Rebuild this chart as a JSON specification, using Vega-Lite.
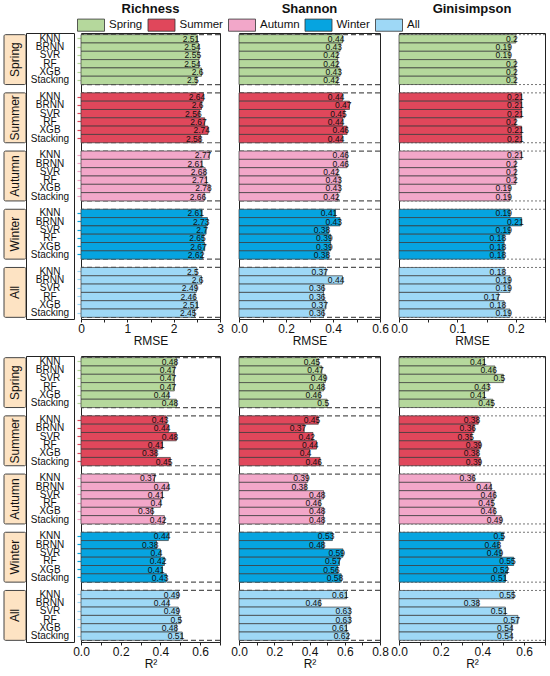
{
  "$schema": "https://vega.github.io/schema/vega-lite/v6.json",
  "padding": {"left": 3, "top": 2, "right": 6, "bottom": 2},
  "background": "white",
  "datasets": {
    "d": [
      {"index": "Richness", "metric": "RMSE", "season": "Spring", "model": "KNN", "value": 2.51},
      {"index": "Richness", "metric": "RMSE", "season": "Spring", "model": "BRNN", "value": 2.54},
      {"index": "Richness", "metric": "RMSE", "season": "Spring", "model": "SVR", "value": 2.55},
      {"index": "Richness", "metric": "RMSE", "season": "Spring", "model": "RF", "value": 2.54},
      {"index": "Richness", "metric": "RMSE", "season": "Spring", "model": "XGB", "value": 2.6},
      {"index": "Richness", "metric": "RMSE", "season": "Spring", "model": "Stacking", "value": 2.5},
      {"index": "Richness", "metric": "RMSE", "season": "Summer", "model": "KNN", "value": 2.64},
      {"index": "Richness", "metric": "RMSE", "season": "Summer", "model": "BRNN", "value": 2.6},
      {"index": "Richness", "metric": "RMSE", "season": "Summer", "model": "SVR", "value": 2.56},
      {"index": "Richness", "metric": "RMSE", "season": "Summer", "model": "RF", "value": 2.67},
      {"index": "Richness", "metric": "RMSE", "season": "Summer", "model": "XGB", "value": 2.74},
      {"index": "Richness", "metric": "RMSE", "season": "Summer", "model": "Stacking", "value": 2.58},
      {"index": "Richness", "metric": "RMSE", "season": "Autumn", "model": "KNN", "value": 2.77},
      {"index": "Richness", "metric": "RMSE", "season": "Autumn", "model": "BRNN", "value": 2.61},
      {"index": "Richness", "metric": "RMSE", "season": "Autumn", "model": "SVR", "value": 2.68},
      {"index": "Richness", "metric": "RMSE", "season": "Autumn", "model": "RF", "value": 2.71},
      {"index": "Richness", "metric": "RMSE", "season": "Autumn", "model": "XGB", "value": 2.78},
      {"index": "Richness", "metric": "RMSE", "season": "Autumn", "model": "Stacking", "value": 2.66},
      {"index": "Richness", "metric": "RMSE", "season": "Winter", "model": "KNN", "value": 2.61},
      {"index": "Richness", "metric": "RMSE", "season": "Winter", "model": "BRNN", "value": 2.73},
      {"index": "Richness", "metric": "RMSE", "season": "Winter", "model": "SVR", "value": 2.7},
      {"index": "Richness", "metric": "RMSE", "season": "Winter", "model": "RF", "value": 2.65},
      {"index": "Richness", "metric": "RMSE", "season": "Winter", "model": "XGB", "value": 2.67},
      {"index": "Richness", "metric": "RMSE", "season": "Winter", "model": "Stacking", "value": 2.62},
      {"index": "Richness", "metric": "RMSE", "season": "All", "model": "KNN", "value": 2.5},
      {"index": "Richness", "metric": "RMSE", "season": "All", "model": "BRNN", "value": 2.6},
      {"index": "Richness", "metric": "RMSE", "season": "All", "model": "SVR", "value": 2.49},
      {"index": "Richness", "metric": "RMSE", "season": "All", "model": "RF", "value": 2.46},
      {"index": "Richness", "metric": "RMSE", "season": "All", "model": "XGB", "value": 2.51},
      {"index": "Richness", "metric": "RMSE", "season": "All", "model": "Stacking", "value": 2.45},

      {"index": "Shannon", "metric": "RMSE", "season": "Spring", "model": "KNN", "value": 0.44},
      {"index": "Shannon", "metric": "RMSE", "season": "Spring", "model": "BRNN", "value": 0.43},
      {"index": "Shannon", "metric": "RMSE", "season": "Spring", "model": "SVR", "value": 0.42},
      {"index": "Shannon", "metric": "RMSE", "season": "Spring", "model": "RF", "value": 0.42},
      {"index": "Shannon", "metric": "RMSE", "season": "Spring", "model": "XGB", "value": 0.43},
      {"index": "Shannon", "metric": "RMSE", "season": "Spring", "model": "Stacking", "value": 0.42},
      {"index": "Shannon", "metric": "RMSE", "season": "Summer", "model": "KNN", "value": 0.44},
      {"index": "Shannon", "metric": "RMSE", "season": "Summer", "model": "BRNN", "value": 0.47},
      {"index": "Shannon", "metric": "RMSE", "season": "Summer", "model": "SVR", "value": 0.45},
      {"index": "Shannon", "metric": "RMSE", "season": "Summer", "model": "RF", "value": 0.44},
      {"index": "Shannon", "metric": "RMSE", "season": "Summer", "model": "XGB", "value": 0.46},
      {"index": "Shannon", "metric": "RMSE", "season": "Summer", "model": "Stacking", "value": 0.44},
      {"index": "Shannon", "metric": "RMSE", "season": "Autumn", "model": "KNN", "value": 0.46},
      {"index": "Shannon", "metric": "RMSE", "season": "Autumn", "model": "BRNN", "value": 0.46},
      {"index": "Shannon", "metric": "RMSE", "season": "Autumn", "model": "SVR", "value": 0.42},
      {"index": "Shannon", "metric": "RMSE", "season": "Autumn", "model": "RF", "value": 0.43},
      {"index": "Shannon", "metric": "RMSE", "season": "Autumn", "model": "XGB", "value": 0.43},
      {"index": "Shannon", "metric": "RMSE", "season": "Autumn", "model": "Stacking", "value": 0.42},
      {"index": "Shannon", "metric": "RMSE", "season": "Winter", "model": "KNN", "value": 0.41},
      {"index": "Shannon", "metric": "RMSE", "season": "Winter", "model": "BRNN", "value": 0.43},
      {"index": "Shannon", "metric": "RMSE", "season": "Winter", "model": "SVR", "value": 0.38},
      {"index": "Shannon", "metric": "RMSE", "season": "Winter", "model": "RF", "value": 0.39},
      {"index": "Shannon", "metric": "RMSE", "season": "Winter", "model": "XGB", "value": 0.39},
      {"index": "Shannon", "metric": "RMSE", "season": "Winter", "model": "Stacking", "value": 0.38},
      {"index": "Shannon", "metric": "RMSE", "season": "All", "model": "KNN", "value": 0.37},
      {"index": "Shannon", "metric": "RMSE", "season": "All", "model": "BRNN", "value": 0.44},
      {"index": "Shannon", "metric": "RMSE", "season": "All", "model": "SVR", "value": 0.36},
      {"index": "Shannon", "metric": "RMSE", "season": "All", "model": "RF", "value": 0.36},
      {"index": "Shannon", "metric": "RMSE", "season": "All", "model": "XGB", "value": 0.37},
      {"index": "Shannon", "metric": "RMSE", "season": "All", "model": "Stacking", "value": 0.36},

      {"index": "Ginisimpson", "metric": "RMSE", "season": "Spring", "model": "KNN", "value": 0.2},
      {"index": "Ginisimpson", "metric": "RMSE", "season": "Spring", "model": "BRNN", "value": 0.19},
      {"index": "Ginisimpson", "metric": "RMSE", "season": "Spring", "model": "SVR", "value": 0.19},
      {"index": "Ginisimpson", "metric": "RMSE", "season": "Spring", "model": "RF", "value": 0.2},
      {"index": "Ginisimpson", "metric": "RMSE", "season": "Spring", "model": "XGB", "value": 0.2},
      {"index": "Ginisimpson", "metric": "RMSE", "season": "Spring", "model": "Stacking", "value": 0.2},
      {"index": "Ginisimpson", "metric": "RMSE", "season": "Summer", "model": "KNN", "value": 0.21},
      {"index": "Ginisimpson", "metric": "RMSE", "season": "Summer", "model": "BRNN", "value": 0.21},
      {"index": "Ginisimpson", "metric": "RMSE", "season": "Summer", "model": "SVR", "value": 0.21},
      {"index": "Ginisimpson", "metric": "RMSE", "season": "Summer", "model": "RF", "value": 0.2},
      {"index": "Ginisimpson", "metric": "RMSE", "season": "Summer", "model": "XGB", "value": 0.21},
      {"index": "Ginisimpson", "metric": "RMSE", "season": "Summer", "model": "Stacking", "value": 0.21},
      {"index": "Ginisimpson", "metric": "RMSE", "season": "Autumn", "model": "KNN", "value": 0.21},
      {"index": "Ginisimpson", "metric": "RMSE", "season": "Autumn", "model": "BRNN", "value": 0.2},
      {"index": "Ginisimpson", "metric": "RMSE", "season": "Autumn", "model": "SVR", "value": 0.2},
      {"index": "Ginisimpson", "metric": "RMSE", "season": "Autumn", "model": "RF", "value": 0.2},
      {"index": "Ginisimpson", "metric": "RMSE", "season": "Autumn", "model": "XGB", "value": 0.19},
      {"index": "Ginisimpson", "metric": "RMSE", "season": "Autumn", "model": "Stacking", "value": 0.19},
      {"index": "Ginisimpson", "metric": "RMSE", "season": "Winter", "model": "KNN", "value": 0.19},
      {"index": "Ginisimpson", "metric": "RMSE", "season": "Winter", "model": "BRNN", "value": 0.21},
      {"index": "Ginisimpson", "metric": "RMSE", "season": "Winter", "model": "SVR", "value": 0.19},
      {"index": "Ginisimpson", "metric": "RMSE", "season": "Winter", "model": "RF", "value": 0.18},
      {"index": "Ginisimpson", "metric": "RMSE", "season": "Winter", "model": "XGB", "value": 0.18},
      {"index": "Ginisimpson", "metric": "RMSE", "season": "Winter", "model": "Stacking", "value": 0.18},
      {"index": "Ginisimpson", "metric": "RMSE", "season": "All", "model": "KNN", "value": 0.18},
      {"index": "Ginisimpson", "metric": "RMSE", "season": "All", "model": "BRNN", "value": 0.19},
      {"index": "Ginisimpson", "metric": "RMSE", "season": "All", "model": "SVR", "value": 0.19},
      {"index": "Ginisimpson", "metric": "RMSE", "season": "All", "model": "RF", "value": 0.17},
      {"index": "Ginisimpson", "metric": "RMSE", "season": "All", "model": "XGB", "value": 0.18},
      {"index": "Ginisimpson", "metric": "RMSE", "season": "All", "model": "Stacking", "value": 0.19},

      {"index": "Richness", "metric": "R2", "season": "Spring", "model": "KNN", "value": 0.48},
      {"index": "Richness", "metric": "R2", "season": "Spring", "model": "BRNN", "value": 0.47},
      {"index": "Richness", "metric": "R2", "season": "Spring", "model": "SVR", "value": 0.47},
      {"index": "Richness", "metric": "R2", "season": "Spring", "model": "RF", "value": 0.47},
      {"index": "Richness", "metric": "R2", "season": "Spring", "model": "XGB", "value": 0.44},
      {"index": "Richness", "metric": "R2", "season": "Spring", "model": "Stacking", "value": 0.48},
      {"index": "Richness", "metric": "R2", "season": "Summer", "model": "KNN", "value": 0.43},
      {"index": "Richness", "metric": "R2", "season": "Summer", "model": "BRNN", "value": 0.44},
      {"index": "Richness", "metric": "R2", "season": "Summer", "model": "SVR", "value": 0.48},
      {"index": "Richness", "metric": "R2", "season": "Summer", "model": "RF", "value": 0.41},
      {"index": "Richness", "metric": "R2", "season": "Summer", "model": "XGB", "value": 0.38},
      {"index": "Richness", "metric": "R2", "season": "Summer", "model": "Stacking", "value": 0.45},
      {"index": "Richness", "metric": "R2", "season": "Autumn", "model": "KNN", "value": 0.37},
      {"index": "Richness", "metric": "R2", "season": "Autumn", "model": "BRNN", "value": 0.44},
      {"index": "Richness", "metric": "R2", "season": "Autumn", "model": "SVR", "value": 0.41},
      {"index": "Richness", "metric": "R2", "season": "Autumn", "model": "RF", "value": 0.4},
      {"index": "Richness", "metric": "R2", "season": "Autumn", "model": "XGB", "value": 0.36},
      {"index": "Richness", "metric": "R2", "season": "Autumn", "model": "Stacking", "value": 0.42},
      {"index": "Richness", "metric": "R2", "season": "Winter", "model": "KNN", "value": 0.44},
      {"index": "Richness", "metric": "R2", "season": "Winter", "model": "BRNN", "value": 0.38},
      {"index": "Richness", "metric": "R2", "season": "Winter", "model": "SVR", "value": 0.4},
      {"index": "Richness", "metric": "R2", "season": "Winter", "model": "RF", "value": 0.42},
      {"index": "Richness", "metric": "R2", "season": "Winter", "model": "XGB", "value": 0.41},
      {"index": "Richness", "metric": "R2", "season": "Winter", "model": "Stacking", "value": 0.43},
      {"index": "Richness", "metric": "R2", "season": "All", "model": "KNN", "value": 0.49},
      {"index": "Richness", "metric": "R2", "season": "All", "model": "BRNN", "value": 0.44},
      {"index": "Richness", "metric": "R2", "season": "All", "model": "SVR", "value": 0.49},
      {"index": "Richness", "metric": "R2", "season": "All", "model": "RF", "value": 0.5},
      {"index": "Richness", "metric": "R2", "season": "All", "model": "XGB", "value": 0.48},
      {"index": "Richness", "metric": "R2", "season": "All", "model": "Stacking", "value": 0.51},

      {"index": "Shannon", "metric": "R2", "season": "Spring", "model": "KNN", "value": 0.45},
      {"index": "Shannon", "metric": "R2", "season": "Spring", "model": "BRNN", "value": 0.47},
      {"index": "Shannon", "metric": "R2", "season": "Spring", "model": "SVR", "value": 0.49},
      {"index": "Shannon", "metric": "R2", "season": "Spring", "model": "RF", "value": 0.48},
      {"index": "Shannon", "metric": "R2", "season": "Spring", "model": "XGB", "value": 0.46},
      {"index": "Shannon", "metric": "R2", "season": "Spring", "model": "Stacking", "value": 0.5},
      {"index": "Shannon", "metric": "R2", "season": "Summer", "model": "KNN", "value": 0.45},
      {"index": "Shannon", "metric": "R2", "season": "Summer", "model": "BRNN", "value": 0.37},
      {"index": "Shannon", "metric": "R2", "season": "Summer", "model": "SVR", "value": 0.42},
      {"index": "Shannon", "metric": "R2", "season": "Summer", "model": "RF", "value": 0.44},
      {"index": "Shannon", "metric": "R2", "season": "Summer", "model": "XGB", "value": 0.4},
      {"index": "Shannon", "metric": "R2", "season": "Summer", "model": "Stacking", "value": 0.46},
      {"index": "Shannon", "metric": "R2", "season": "Autumn", "model": "KNN", "value": 0.39},
      {"index": "Shannon", "metric": "R2", "season": "Autumn", "model": "BRNN", "value": 0.38},
      {"index": "Shannon", "metric": "R2", "season": "Autumn", "model": "SVR", "value": 0.48},
      {"index": "Shannon", "metric": "R2", "season": "Autumn", "model": "RF", "value": 0.46},
      {"index": "Shannon", "metric": "R2", "season": "Autumn", "model": "XGB", "value": 0.48},
      {"index": "Shannon", "metric": "R2", "season": "Autumn", "model": "Stacking", "value": 0.48},
      {"index": "Shannon", "metric": "R2", "season": "Winter", "model": "KNN", "value": 0.53},
      {"index": "Shannon", "metric": "R2", "season": "Winter", "model": "BRNN", "value": 0.48},
      {"index": "Shannon", "metric": "R2", "season": "Winter", "model": "SVR", "value": 0.59},
      {"index": "Shannon", "metric": "R2", "season": "Winter", "model": "RF", "value": 0.57},
      {"index": "Shannon", "metric": "R2", "season": "Winter", "model": "XGB", "value": 0.56},
      {"index": "Shannon", "metric": "R2", "season": "Winter", "model": "Stacking", "value": 0.58},
      {"index": "Shannon", "metric": "R2", "season": "All", "model": "KNN", "value": 0.61},
      {"index": "Shannon", "metric": "R2", "season": "All", "model": "BRNN", "value": 0.46},
      {"index": "Shannon", "metric": "R2", "season": "All", "model": "SVR", "value": 0.63},
      {"index": "Shannon", "metric": "R2", "season": "All", "model": "RF", "value": 0.63},
      {"index": "Shannon", "metric": "R2", "season": "All", "model": "XGB", "value": 0.61},
      {"index": "Shannon", "metric": "R2", "season": "All", "model": "Stacking", "value": 0.62},

      {"index": "Ginisimpson", "metric": "R2", "season": "Spring", "model": "KNN", "value": 0.41},
      {"index": "Ginisimpson", "metric": "R2", "season": "Spring", "model": "BRNN", "value": 0.46},
      {"index": "Ginisimpson", "metric": "R2", "season": "Spring", "model": "SVR", "value": 0.5},
      {"index": "Ginisimpson", "metric": "R2", "season": "Spring", "model": "RF", "value": 0.43},
      {"index": "Ginisimpson", "metric": "R2", "season": "Spring", "model": "XGB", "value": 0.41},
      {"index": "Ginisimpson", "metric": "R2", "season": "Spring", "model": "Stacking", "value": 0.45},
      {"index": "Ginisimpson", "metric": "R2", "season": "Summer", "model": "KNN", "value": 0.38},
      {"index": "Ginisimpson", "metric": "R2", "season": "Summer", "model": "BRNN", "value": 0.36},
      {"index": "Ginisimpson", "metric": "R2", "season": "Summer", "model": "SVR", "value": 0.35},
      {"index": "Ginisimpson", "metric": "R2", "season": "Summer", "model": "RF", "value": 0.39},
      {"index": "Ginisimpson", "metric": "R2", "season": "Summer", "model": "XGB", "value": 0.38},
      {"index": "Ginisimpson", "metric": "R2", "season": "Summer", "model": "Stacking", "value": 0.39},
      {"index": "Ginisimpson", "metric": "R2", "season": "Autumn", "model": "KNN", "value": 0.36},
      {"index": "Ginisimpson", "metric": "R2", "season": "Autumn", "model": "BRNN", "value": 0.44},
      {"index": "Ginisimpson", "metric": "R2", "season": "Autumn", "model": "SVR", "value": 0.46},
      {"index": "Ginisimpson", "metric": "R2", "season": "Autumn", "model": "RF", "value": 0.45},
      {"index": "Ginisimpson", "metric": "R2", "season": "Autumn", "model": "XGB", "value": 0.46},
      {"index": "Ginisimpson", "metric": "R2", "season": "Autumn", "model": "Stacking", "value": 0.49},
      {"index": "Ginisimpson", "metric": "R2", "season": "Winter", "model": "KNN", "value": 0.5},
      {"index": "Ginisimpson", "metric": "R2", "season": "Winter", "model": "BRNN", "value": 0.48},
      {"index": "Ginisimpson", "metric": "R2", "season": "Winter", "model": "SVR", "value": 0.49},
      {"index": "Ginisimpson", "metric": "R2", "season": "Winter", "model": "RF", "value": 0.55},
      {"index": "Ginisimpson", "metric": "R2", "season": "Winter", "model": "XGB", "value": 0.52},
      {"index": "Ginisimpson", "metric": "R2", "season": "Winter", "model": "Stacking", "value": 0.51},
      {"index": "Ginisimpson", "metric": "R2", "season": "All", "model": "KNN", "value": 0.55},
      {"index": "Ginisimpson", "metric": "R2", "season": "All", "model": "BRNN", "value": 0.38},
      {"index": "Ginisimpson", "metric": "R2", "season": "All", "model": "SVR", "value": 0.51},
      {"index": "Ginisimpson", "metric": "R2", "season": "All", "model": "RF", "value": 0.57},
      {"index": "Ginisimpson", "metric": "R2", "season": "All", "model": "XGB", "value": 0.54},
      {"index": "Ginisimpson", "metric": "R2", "season": "All", "model": "Stacking", "value": 0.54}
    ]
  },
  "data": {"name": "d"},
  "transform": [{"calculate": "datum.season + '|' + datum.model", "as": "key"}],
  "bounds": "flush",
  "align": "each",
  "columns": 8,
  "spacing": {"row": 37, "column": 0},
  "concat": [
    {
      "width": 22, "height": 286,
      "view": {"stroke": null},
      "transform": [
        {"filter": "datum.index == 'Richness' && datum.metric == 'RMSE'"},
        {"aggregate": [{"op": "count", "as": "n"}], "groupby": ["season"]}
      ],
      "encoding": {
        "y": {"field": "season", "type": "nominal", "axis": null,
          "scale": {"type": "band", "domain": ["Spring", "Summer", "Autumn", "Winter", "All"], "paddingInner": 0.142857, "paddingOuter": 0.028571}}
      },
      "layer": [
        {"mark": {"type": "rect", "fill": "#fde3c3", "stroke": "#444", "strokeWidth": 1, "cornerRadius": 1.5}},
        {"mark": {"type": "text", "angle": 270, "fontSize": 12, "color": "#111"}, "encoding": {"text": {"field": "season"}}}
      ]
    },
    {
      "width": 48, "height": 286,
      "transform": [{"filter": "datum.index == 'Richness' && datum.metric == 'RMSE'"}],
      "mark": {"type": "text", "fontSize": 10, "color": "#111"},
      "encoding": {
        "y": {"field": "key", "type": "nominal", "axis": null,
          "scale": {"type": "band", "paddingInner": 0, "paddingOuter": 0.2,
            "domain": ["Spring|KNN", "Spring|BRNN", "Spring|SVR", "Spring|RF", "Spring|XGB", "Spring|Stacking", "gap1", "Summer|KNN", "Summer|BRNN", "Summer|SVR", "Summer|RF", "Summer|XGB", "Summer|Stacking", "gap2", "Autumn|KNN", "Autumn|BRNN", "Autumn|SVR", "Autumn|RF", "Autumn|XGB", "Autumn|Stacking", "gap3", "Winter|KNN", "Winter|BRNN", "Winter|SVR", "Winter|RF", "Winter|XGB", "Winter|Stacking", "gap4", "All|KNN", "All|BRNN", "All|SVR", "All|RF", "All|XGB", "All|Stacking"]}},
        "text": {"field": "model"}
      }
    },
    {"width": 7, "height": 286, "view": {"stroke": null}, "transform": [{"filter": "false"}], "mark": "point"},
    {
      "width": 139, "height": 286,
      "title": "Richness",
      "transform": [{"filter": "datum.index == 'Richness' && datum.metric == 'RMSE'"}],
      "encoding": {
        "y": {"field": "key", "type": "nominal", "title": null,
          "scale": {"type": "band", "paddingInner": 0, "paddingOuter": 0.2,
            "domain": ["Spring|KNN", "Spring|BRNN", "Spring|SVR", "Spring|RF", "Spring|XGB", "Spring|Stacking", "gap1", "Summer|KNN", "Summer|BRNN", "Summer|SVR", "Summer|RF", "Summer|XGB", "Summer|Stacking", "gap2", "Autumn|KNN", "Autumn|BRNN", "Autumn|SVR", "Autumn|RF", "Autumn|XGB", "Autumn|Stacking", "gap3", "Winter|KNN", "Winter|BRNN", "Winter|SVR", "Winter|RF", "Winter|XGB", "Winter|Stacking", "gap4", "All|KNN", "All|BRNN", "All|SVR", "All|RF", "All|XGB", "All|Stacking"]},
          "axis": {"labels": false, "domain": false, "tickSize": 4, "tickWidth": 1.2,
            "tickColor": {"condition": [
              {"test": "indexof(datum.value, 'Spring|') == 0", "value": "#b5d89c"},
              {"test": "indexof(datum.value, 'Summer|') == 0", "value": "#e0475b"},
              {"test": "indexof(datum.value, 'Autumn|') == 0", "value": "#f2a7c9"},
              {"test": "indexof(datum.value, 'Winter|') == 0", "value": "#06a4e0"},
              {"test": "indexof(datum.value, 'All|') == 0", "value": "#9ed8f6"}], "value": "transparent"}}
        }
      },
      "layer": [
        {"transform": [{"filter": "datum.model == 'KNN'"}], "mark": {"type": "rule", "stroke": "#555", "strokeDash": [5, 3], "strokeWidth": 1.2},
          "encoding": {"y": {"field": "key", "type": "nominal", "bandPosition": 0, "title": null,
            "axis": {"labels": false, "domain": false, "tickSize": 4, "tickWidth": 1.2,
              "tickColor": {"condition": [
                {"test": "indexof(datum.value, 'Spring|') == 0", "value": "#b5d89c"},
                {"test": "indexof(datum.value, 'Summer|') == 0", "value": "#e0475b"},
                {"test": "indexof(datum.value, 'Autumn|') == 0", "value": "#f2a7c9"},
                {"test": "indexof(datum.value, 'Winter|') == 0", "value": "#06a4e0"},
                {"test": "indexof(datum.value, 'All|') == 0", "value": "#9ed8f6"}], "value": "transparent"}}}}},
        {"transform": [{"filter": "datum.model == 'Stacking'"}], "mark": {"type": "rule", "stroke": "#555", "strokeDash": [5, 3], "strokeWidth": 1.2},
          "encoding": {"y": {"field": "key", "type": "nominal", "bandPosition": 1, "title": null,
            "axis": {"labels": false, "domain": false, "tickSize": 4, "tickWidth": 1.2,
              "tickColor": {"condition": [
                {"test": "indexof(datum.value, 'Spring|') == 0", "value": "#b5d89c"},
                {"test": "indexof(datum.value, 'Summer|') == 0", "value": "#e0475b"},
                {"test": "indexof(datum.value, 'Autumn|') == 0", "value": "#f2a7c9"},
                {"test": "indexof(datum.value, 'Winter|') == 0", "value": "#06a4e0"},
                {"test": "indexof(datum.value, 'All|') == 0", "value": "#9ed8f6"}], "value": "transparent"}}}}},
        {
          "encoding": {
            "x": {"field": "value", "type": "quantitative", "scale": {"domain": [0, 3], "nice": false},
              "axis": {"title": "RMSE", "values": [0, 0.5, 1, 1.5, 2, 2.5, 3], "format": ".0f", "labelExpr": "datum.value % 1 == 0 ? datum.label : ''"}}
          },
          "layer": [
            {"mark": {"type": "bar", "stroke": "#3a3a3a", "strokeWidth": 0.7},
              "encoding": {"color": {"field": "season", "type": "nominal", "title": null,
                "scale": {"domain": ["Spring", "Summer", "Autumn", "Winter", "All"], "range": ["#b5d89c", "#e0475b", "#f2a7c9", "#06a4e0", "#9ed8f6"]}}}},
            {"mark": {"type": "text", "align": "right", "dx": 2, "fontSize": 8.5, "color": "#111"},
              "encoding": {"text": {"field": "value", "type": "quantitative"}}}
          ]
        }
      ]
    },
    {"width": 19, "height": 286, "view": {"stroke": null}, "transform": [{"filter": "false"}], "mark": "point"},
    {
      "width": 141, "height": 286,
      "title": "Shannon",
      "transform": [{"filter": "datum.index == 'Shannon' && datum.metric == 'RMSE'"}],
      "encoding": {
        "y": {"field": "key", "type": "nominal", "title": null, "axis": null,
          "scale": {"type": "band", "paddingInner": 0, "paddingOuter": 0.2,
            "domain": ["Spring|KNN", "Spring|BRNN", "Spring|SVR", "Spring|RF", "Spring|XGB", "Spring|Stacking", "gap1", "Summer|KNN", "Summer|BRNN", "Summer|SVR", "Summer|RF", "Summer|XGB", "Summer|Stacking", "gap2", "Autumn|KNN", "Autumn|BRNN", "Autumn|SVR", "Autumn|RF", "Autumn|XGB", "Autumn|Stacking", "gap3", "Winter|KNN", "Winter|BRNN", "Winter|SVR", "Winter|RF", "Winter|XGB", "Winter|Stacking", "gap4", "All|KNN", "All|BRNN", "All|SVR", "All|RF", "All|XGB", "All|Stacking"]}}
      },
      "layer": [
        {"transform": [{"filter": "datum.model == 'KNN'"}], "mark": {"type": "rule", "stroke": "#555", "strokeDash": [5, 3], "strokeWidth": 1.2},
          "encoding": {"y": {"field": "key", "type": "nominal", "bandPosition": 0, "title": null, "axis": null}}},
        {"transform": [{"filter": "datum.model == 'Stacking'"}], "mark": {"type": "rule", "stroke": "#555", "strokeDash": [5, 3], "strokeWidth": 1.2},
          "encoding": {"y": {"field": "key", "type": "nominal", "bandPosition": 1, "title": null, "axis": null}}},
        {
          "encoding": {
            "x": {"field": "value", "type": "quantitative", "scale": {"domain": [0, 0.6], "nice": false},
              "axis": {"title": "RMSE", "values": [0, 0.1, 0.2, 0.3, 0.4, 0.5, 0.6], "format": ".1f", "labelExpr": "round(datum.value * 10) % 2 == 0 ? datum.label : ''"}}
          },
          "layer": [
            {"mark": {"type": "bar", "stroke": "#3a3a3a", "strokeWidth": 0.7},
              "encoding": {"color": {"field": "season", "type": "nominal", "title": null,
                "scale": {"domain": ["Spring", "Summer", "Autumn", "Winter", "All"], "range": ["#b5d89c", "#e0475b", "#f2a7c9", "#06a4e0", "#9ed8f6"]}}}},
            {"mark": {"type": "text", "align": "right", "dx": 2, "fontSize": 8.5, "color": "#111"},
              "encoding": {"text": {"field": "value", "type": "quantitative"}}}
          ]
        }
      ]
    },
    {"width": 19, "height": 286, "view": {"stroke": null}, "transform": [{"filter": "false"}], "mark": "point"},
    {
      "width": 146, "height": 286,
      "title": "Ginisimpson",
      "transform": [{"filter": "datum.index == 'Ginisimpson' && datum.metric == 'RMSE'"}],
      "encoding": {
        "y": {"field": "key", "type": "nominal", "title": null, "axis": null,
          "scale": {"type": "band", "paddingInner": 0, "paddingOuter": 0.2,
            "domain": ["Spring|KNN", "Spring|BRNN", "Spring|SVR", "Spring|RF", "Spring|XGB", "Spring|Stacking", "gap1", "Summer|KNN", "Summer|BRNN", "Summer|SVR", "Summer|RF", "Summer|XGB", "Summer|Stacking", "gap2", "Autumn|KNN", "Autumn|BRNN", "Autumn|SVR", "Autumn|RF", "Autumn|XGB", "Autumn|Stacking", "gap3", "Winter|KNN", "Winter|BRNN", "Winter|SVR", "Winter|RF", "Winter|XGB", "Winter|Stacking", "gap4", "All|KNN", "All|BRNN", "All|SVR", "All|RF", "All|XGB", "All|Stacking"]}}
      },
      "layer": [
        {"transform": [{"filter": "datum.model == 'KNN'"}], "mark": {"type": "rule", "stroke": "#666", "strokeDash": [2, 2], "strokeWidth": 0.9},
          "encoding": {"y": {"field": "key", "type": "nominal", "bandPosition": 0, "title": null, "axis": null}}},
        {"transform": [{"filter": "datum.model == 'Stacking'"}], "mark": {"type": "rule", "stroke": "#666", "strokeDash": [2, 2], "strokeWidth": 0.9},
          "encoding": {"y": {"field": "key", "type": "nominal", "bandPosition": 1, "title": null, "axis": null}}},
        {
          "encoding": {
            "x": {"field": "value", "type": "quantitative", "scale": {"domain": [0, 0.25], "nice": false},
              "axis": {"title": "RMSE", "values": [0, 0.05, 0.1, 0.15, 0.2, 0.25], "format": ".1f", "labelExpr": "round(datum.value * 100) % 10 == 0 ? datum.label : ''"}}
          },
          "layer": [
            {"mark": {"type": "bar", "stroke": "#3a3a3a", "strokeWidth": 0.7},
              "encoding": {"color": {"field": "season", "type": "nominal", "title": null,
                "scale": {"domain": ["Spring", "Summer", "Autumn", "Winter", "All"], "range": ["#b5d89c", "#e0475b", "#f2a7c9", "#06a4e0", "#9ed8f6"]}}}},
            {"mark": {"type": "text", "align": "right", "dx": 2, "fontSize": 8.5, "color": "#111"},
              "encoding": {"text": {"field": "value", "type": "quantitative"}}}
          ]
        }
      ]
    },

    {
      "width": 22, "height": 286,
      "view": {"stroke": null},
      "transform": [
        {"filter": "datum.index == 'Richness' && datum.metric == 'R2'"},
        {"aggregate": [{"op": "count", "as": "n"}], "groupby": ["season"]}
      ],
      "encoding": {
        "y": {"field": "season", "type": "nominal", "axis": null,
          "scale": {"type": "band", "domain": ["Spring", "Summer", "Autumn", "Winter", "All"], "paddingInner": 0.142857, "paddingOuter": 0.028571}}
      },
      "layer": [
        {"mark": {"type": "rect", "fill": "#fde3c3", "stroke": "#444", "strokeWidth": 1, "cornerRadius": 1.5}},
        {"mark": {"type": "text", "angle": 270, "fontSize": 12, "color": "#111"}, "encoding": {"text": {"field": "season"}}}
      ]
    },
    {
      "width": 48, "height": 286,
      "transform": [{"filter": "datum.index == 'Richness' && datum.metric == 'R2'"}],
      "mark": {"type": "text", "fontSize": 10, "color": "#111"},
      "encoding": {
        "y": {"field": "key", "type": "nominal", "axis": null,
          "scale": {"type": "band", "paddingInner": 0, "paddingOuter": 0.2,
            "domain": ["Spring|KNN", "Spring|BRNN", "Spring|SVR", "Spring|RF", "Spring|XGB", "Spring|Stacking", "gap1", "Summer|KNN", "Summer|BRNN", "Summer|SVR", "Summer|RF", "Summer|XGB", "Summer|Stacking", "gap2", "Autumn|KNN", "Autumn|BRNN", "Autumn|SVR", "Autumn|RF", "Autumn|XGB", "Autumn|Stacking", "gap3", "Winter|KNN", "Winter|BRNN", "Winter|SVR", "Winter|RF", "Winter|XGB", "Winter|Stacking", "gap4", "All|KNN", "All|BRNN", "All|SVR", "All|RF", "All|XGB", "All|Stacking"]}},
        "text": {"field": "model"}
      }
    },
    {"width": 7, "height": 286, "view": {"stroke": null}, "transform": [{"filter": "false"}], "mark": "point"},
    {
      "width": 139, "height": 286,
      "transform": [{"filter": "datum.index == 'Richness' && datum.metric == 'R2'"}],
      "encoding": {
        "y": {"field": "key", "type": "nominal", "title": null,
          "scale": {"type": "band", "paddingInner": 0, "paddingOuter": 0.2,
            "domain": ["Spring|KNN", "Spring|BRNN", "Spring|SVR", "Spring|RF", "Spring|XGB", "Spring|Stacking", "gap1", "Summer|KNN", "Summer|BRNN", "Summer|SVR", "Summer|RF", "Summer|XGB", "Summer|Stacking", "gap2", "Autumn|KNN", "Autumn|BRNN", "Autumn|SVR", "Autumn|RF", "Autumn|XGB", "Autumn|Stacking", "gap3", "Winter|KNN", "Winter|BRNN", "Winter|SVR", "Winter|RF", "Winter|XGB", "Winter|Stacking", "gap4", "All|KNN", "All|BRNN", "All|SVR", "All|RF", "All|XGB", "All|Stacking"]},
          "axis": {"labels": false, "domain": false, "tickSize": 4, "tickWidth": 1.2,
            "tickColor": {"condition": [
              {"test": "indexof(datum.value, 'Spring|') == 0", "value": "#b5d89c"},
              {"test": "indexof(datum.value, 'Summer|') == 0", "value": "#e0475b"},
              {"test": "indexof(datum.value, 'Autumn|') == 0", "value": "#f2a7c9"},
              {"test": "indexof(datum.value, 'Winter|') == 0", "value": "#06a4e0"},
              {"test": "indexof(datum.value, 'All|') == 0", "value": "#9ed8f6"}], "value": "transparent"}}
        }
      },
      "layer": [
        {"transform": [{"filter": "datum.model == 'KNN'"}], "mark": {"type": "rule", "stroke": "#555", "strokeDash": [5, 3], "strokeWidth": 1.2},
          "encoding": {"y": {"field": "key", "type": "nominal", "bandPosition": 0, "title": null,
            "axis": {"labels": false, "domain": false, "tickSize": 4, "tickWidth": 1.2,
              "tickColor": {"condition": [
                {"test": "indexof(datum.value, 'Spring|') == 0", "value": "#b5d89c"},
                {"test": "indexof(datum.value, 'Summer|') == 0", "value": "#e0475b"},
                {"test": "indexof(datum.value, 'Autumn|') == 0", "value": "#f2a7c9"},
                {"test": "indexof(datum.value, 'Winter|') == 0", "value": "#06a4e0"},
                {"test": "indexof(datum.value, 'All|') == 0", "value": "#9ed8f6"}], "value": "transparent"}}}}},
        {"transform": [{"filter": "datum.model == 'Stacking'"}], "mark": {"type": "rule", "stroke": "#555", "strokeDash": [5, 3], "strokeWidth": 1.2},
          "encoding": {"y": {"field": "key", "type": "nominal", "bandPosition": 1, "title": null,
            "axis": {"labels": false, "domain": false, "tickSize": 4, "tickWidth": 1.2,
              "tickColor": {"condition": [
                {"test": "indexof(datum.value, 'Spring|') == 0", "value": "#b5d89c"},
                {"test": "indexof(datum.value, 'Summer|') == 0", "value": "#e0475b"},
                {"test": "indexof(datum.value, 'Autumn|') == 0", "value": "#f2a7c9"},
                {"test": "indexof(datum.value, 'Winter|') == 0", "value": "#06a4e0"},
                {"test": "indexof(datum.value, 'All|') == 0", "value": "#9ed8f6"}], "value": "transparent"}}}}},
        {
          "encoding": {
            "x": {"field": "value", "type": "quantitative", "scale": {"domain": [0, 0.7], "nice": false},
              "axis": {"title": "R²", "values": [0, 0.1, 0.2, 0.3, 0.4, 0.5, 0.6, 0.7], "format": ".1f", "labelExpr": "round(datum.value * 10) % 2 == 0 ? datum.label : ''"}}
          },
          "layer": [
            {"mark": {"type": "bar", "stroke": "#3a3a3a", "strokeWidth": 0.7},
              "encoding": {"color": {"field": "season", "type": "nominal", "title": null,
                "scale": {"domain": ["Spring", "Summer", "Autumn", "Winter", "All"], "range": ["#b5d89c", "#e0475b", "#f2a7c9", "#06a4e0", "#9ed8f6"]}}}},
            {"mark": {"type": "text", "align": "right", "dx": 2, "fontSize": 8.5, "color": "#111"},
              "encoding": {"text": {"field": "value", "type": "quantitative"}}}
          ]
        }
      ]
    },
    {"width": 19, "height": 286, "view": {"stroke": null}, "transform": [{"filter": "false"}], "mark": "point"},
    {
      "width": 141, "height": 286,
      "transform": [{"filter": "datum.index == 'Shannon' && datum.metric == 'R2'"}],
      "encoding": {
        "y": {"field": "key", "type": "nominal", "title": null, "axis": null,
          "scale": {"type": "band", "paddingInner": 0, "paddingOuter": 0.2,
            "domain": ["Spring|KNN", "Spring|BRNN", "Spring|SVR", "Spring|RF", "Spring|XGB", "Spring|Stacking", "gap1", "Summer|KNN", "Summer|BRNN", "Summer|SVR", "Summer|RF", "Summer|XGB", "Summer|Stacking", "gap2", "Autumn|KNN", "Autumn|BRNN", "Autumn|SVR", "Autumn|RF", "Autumn|XGB", "Autumn|Stacking", "gap3", "Winter|KNN", "Winter|BRNN", "Winter|SVR", "Winter|RF", "Winter|XGB", "Winter|Stacking", "gap4", "All|KNN", "All|BRNN", "All|SVR", "All|RF", "All|XGB", "All|Stacking"]}}
      },
      "layer": [
        {"transform": [{"filter": "datum.model == 'KNN'"}], "mark": {"type": "rule", "stroke": "#555", "strokeDash": [5, 3], "strokeWidth": 1.2},
          "encoding": {"y": {"field": "key", "type": "nominal", "bandPosition": 0, "title": null, "axis": null}}},
        {"transform": [{"filter": "datum.model == 'Stacking'"}], "mark": {"type": "rule", "stroke": "#555", "strokeDash": [5, 3], "strokeWidth": 1.2},
          "encoding": {"y": {"field": "key", "type": "nominal", "bandPosition": 1, "title": null, "axis": null}}},
        {
          "encoding": {
            "x": {"field": "value", "type": "quantitative", "scale": {"domain": [0, 0.8], "nice": false},
              "axis": {"title": "R²", "values": [0, 0.1, 0.2, 0.3, 0.4, 0.5, 0.6, 0.7, 0.8], "format": ".1f", "labelExpr": "round(datum.value * 10) % 2 == 0 ? datum.label : ''"}}
          },
          "layer": [
            {"mark": {"type": "bar", "stroke": "#3a3a3a", "strokeWidth": 0.7},
              "encoding": {"color": {"field": "season", "type": "nominal", "title": null,
                "scale": {"domain": ["Spring", "Summer", "Autumn", "Winter", "All"], "range": ["#b5d89c", "#e0475b", "#f2a7c9", "#06a4e0", "#9ed8f6"]}}}},
            {"mark": {"type": "text", "align": "right", "dx": 2, "fontSize": 8.5, "color": "#111"},
              "encoding": {"text": {"field": "value", "type": "quantitative"}}}
          ]
        }
      ]
    },
    {"width": 19, "height": 286, "view": {"stroke": null}, "transform": [{"filter": "false"}], "mark": "point"},
    {
      "width": 146, "height": 286,
      "transform": [{"filter": "datum.index == 'Ginisimpson' && datum.metric == 'R2'"}],
      "encoding": {
        "y": {"field": "key", "type": "nominal", "title": null, "axis": null,
          "scale": {"type": "band", "paddingInner": 0, "paddingOuter": 0.2,
            "domain": ["Spring|KNN", "Spring|BRNN", "Spring|SVR", "Spring|RF", "Spring|XGB", "Spring|Stacking", "gap1", "Summer|KNN", "Summer|BRNN", "Summer|SVR", "Summer|RF", "Summer|XGB", "Summer|Stacking", "gap2", "Autumn|KNN", "Autumn|BRNN", "Autumn|SVR", "Autumn|RF", "Autumn|XGB", "Autumn|Stacking", "gap3", "Winter|KNN", "Winter|BRNN", "Winter|SVR", "Winter|RF", "Winter|XGB", "Winter|Stacking", "gap4", "All|KNN", "All|BRNN", "All|SVR", "All|RF", "All|XGB", "All|Stacking"]}}
      },
      "layer": [
        {"transform": [{"filter": "datum.model == 'KNN'"}], "mark": {"type": "rule", "stroke": "#666", "strokeDash": [2, 2], "strokeWidth": 0.9},
          "encoding": {"y": {"field": "key", "type": "nominal", "bandPosition": 0, "title": null, "axis": null}}},
        {"transform": [{"filter": "datum.model == 'Stacking'"}], "mark": {"type": "rule", "stroke": "#666", "strokeDash": [2, 2], "strokeWidth": 0.9},
          "encoding": {"y": {"field": "key", "type": "nominal", "bandPosition": 1, "title": null, "axis": null}}},
        {
          "encoding": {
            "x": {"field": "value", "type": "quantitative", "scale": {"domain": [0, 0.7], "nice": false},
              "axis": {"title": "R²", "values": [0, 0.1, 0.2, 0.3, 0.4, 0.5, 0.6, 0.7], "format": ".1f", "labelExpr": "round(datum.value * 10) % 2 == 0 ? datum.label : ''"}}
          },
          "layer": [
            {"mark": {"type": "bar", "stroke": "#3a3a3a", "strokeWidth": 0.7},
              "encoding": {"color": {"field": "season", "type": "nominal", "title": null,
                "scale": {"domain": ["Spring", "Summer", "Autumn", "Winter", "All"], "range": ["#b5d89c", "#e0475b", "#f2a7c9", "#06a4e0", "#9ed8f6"]}}}},
            {"mark": {"type": "text", "align": "right", "dx": 2, "fontSize": 8.5, "color": "#111"},
              "encoding": {"text": {"field": "value", "type": "quantitative"}}}
          ]
        }
      ]
    }
  ],
  "config": {
    "font": "Liberation Sans",
    "view": {"stroke": "#222", "strokeWidth": 1},
    "axis": {"grid": false, "labelFontSize": 12, "titleFontSize": 12, "titleFontWeight": "normal", "labelColor": "#111", "titleColor": "#111",
      "domainColor": "#222", "tickColor": "#222", "tickSize": 3, "labelPadding": 1, "titlePadding": 1, "labelFlush": false, "labelOverlap": false},
    "title": {"fontSize": 13, "fontWeight": "bold", "offset": 17, "frame": "group", "anchor": "middle", "color": "#111"},
    "legend": {"orient": "none", "direction": "horizontal", "legendX": 73, "legendY": -22, "gridAlign": "each",
      "symbolType": "M-1,-0.45H1V0.45H-1Z", "symbolSize": 729, "symbolStrokeColor": "#333", "symbolStrokeWidth": 0.8, "symbolOpacity": 1,
      "labelFontSize": 11.5, "labelOffset": 4, "columnPadding": 2.5, "labelColor": "#111"}
  }
}
